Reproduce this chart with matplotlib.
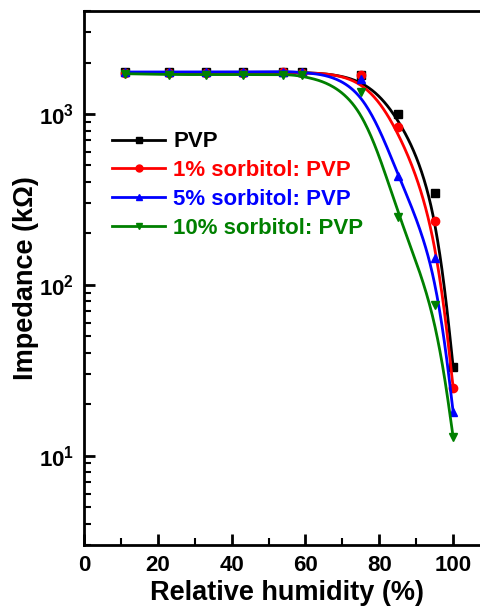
import matplotlib
matplotlib.use("Agg")
import matplotlib.pyplot as plt
import numpy as np
from matplotlib.lines import Line2D
from matplotlib.ticker import MultipleLocator, LogLocator, NullFormatter

plt.rcParams['font.family'] = ['Liberation Sans', 'DejaVu Sans']
plt.rcParams['font.weight'] = 'bold'
plt.rcParams['mathtext.fontset'] = 'custom'
plt.rcParams['mathtext.rm'] = 'Liberation Sans'
plt.rcParams['mathtext.bf'] = 'Liberation Sans:bold'

# relative humidity (%)
rh = [11, 23, 33, 43, 54, 59, 75, 85, 95, 100]

# impedance (kOhm)
pvp = [1750, 1750, 1750, 1750, 1760, 1750, 1680, 1000, 344, 33]
sorb1 = [1740, 1740, 1740, 1740, 1750, 1740, 1700, 839, 236, 25]
sorb5 = [1760, 1760, 1760, 1760, 1770, 1760, 1600, 433, 143, 18]
sorb10 = [1720, 1700, 1700, 1700, 1700, 1690, 1346, 249, 76, 12.8]

labels = ['PVP', '1% sorbitol: PVP', '5% sorbitol: PVP', '10% sorbitol: PVP']
colors = ['black', 'red', 'blue', 'green']
markers = ['s', 'o', '^', 'v']
series = [pvp, sorb1, sorb5, sorb10]


# smooth line: clamped uniform cubic B-spline using the points as control points (log space)
def bspline(x, y, n=40):
    px = np.concatenate([[x[0]] * 2, x, [x[-1]] * 2]).astype(float)
    py = np.concatenate([[y[0]] * 2, y, [y[-1]] * 2]).astype(float)
    t = np.linspace(0, 1, n)
    b0 = (1 - t) ** 3 / 6
    b1 = (3 * t**3 - 6 * t**2 + 4) / 6
    b2 = (-3 * t**3 + 3 * t**2 + 3 * t + 1) / 6
    b3 = t**3 / 6
    cx, cy = [], []
    for i in range(len(px) - 3):
        cx.append(b0 * px[i] + b1 * px[i + 1] + b2 * px[i + 2] + b3 * px[i + 3])
        cy.append(b0 * py[i] + b1 * py[i + 1] + b2 * py[i + 2] + b3 * py[i + 3])
    return np.concatenate(cx), np.concatenate(cy)


fig = plt.figure(figsize=(4.8, 6.06), dpi=100)
ax = fig.add_axes([0.175, 0.1007, 0.846, 0.881])

handles = []
for y, c, mk, lab in zip(series, colors, markers, labels):
    cx, cy = bspline(rh, np.log10(y))
    ax.plot(rh, y, ls='none', marker=mk, color=c, ms=6)
    ax.plot(cx, 10 ** cy, color=c, lw=2)
    handles.append(Line2D([], [], color=c, lw=2, marker=mk, ms=5))

ax.set_yscale('log')
ax.set_xlim(0, 110)
ax.set_ylim(3, 4000)
ax.xaxis.set_major_locator(MultipleLocator(20))
ax.xaxis.set_minor_locator(MultipleLocator(10))
ax.yaxis.set_minor_locator(LogLocator(base=10, subs=np.arange(2, 10), numticks=20))
ax.yaxis.set_minor_formatter(NullFormatter())
ax.set_yticks([10, 100, 1000])
ax.set_yticklabels(['10$^{\\mathregular{1}}$', '10$^{\\mathregular{2}}$', '10$^{\\mathregular{3}}$'])

ax.tick_params(which='major', direction='in', length=8, width=2, labelsize=16, pad=7)
ax.tick_params(which='minor', direction='in', length=5, width=1.5)
for s in ax.spines.values():
    s.set_linewidth(2)

ax.set_xlabel('Relative humidity (%)', fontsize=19.5, fontweight='bold', labelpad=3)
ax.set_ylabel('Impedance (k\u03a9)', fontsize=19.5, fontweight='bold', labelpad=0)

leg = ax.legend(handles, labels, loc='upper left', bbox_to_anchor=(0.02, 0.812),
                frameon=False, fontsize=16, handlelength=2.4, handletextpad=0.35,
                labelspacing=0.35)
for t, c in zip(leg.get_texts(), colors):
    t.set_color(c)
    t.set_fontweight('bold')

fig.savefig('out.png', dpi=100)
